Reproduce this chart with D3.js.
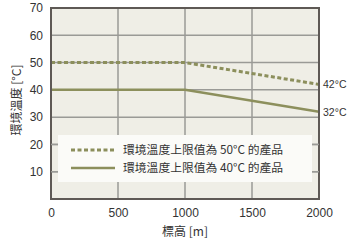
<!DOCTYPE html>
<html>
<head>
<meta charset="utf-8">
<script src="https://cdn.jsdelivr.net/npm/d3@7"></script>
<style>
  body { margin: 0; background: #fff; }
  text { font-family: "Noto Sans CJK TC", "Noto Sans", sans-serif; fill: #333; }
</style>
</head>
<body>
<svg id="chart" width="350" height="244"></svg>
<script>
const altitudes = [0, 1000, 2000];
const temp50 = [50, 50, 42];
const temp40 = [40, 40, 32];
const xTicks = [0, 500, 1000, 1500, 2000];
const yTicks = [10, 20, 30, 40, 50, 60, 70];
const seriesNames = ["環境溫度上限值為 50°C 的產品", "環境溫度上限值為 40°C 的產品"];
const endLabels = ["42°C", "32°C"];

const svg = d3.select("#chart");
const pLeft = 51, pRight = 319, pTop = 8, pBottom = 199;
const lineColor = "#8c8f5c";

const x = d3.scaleLinear().domain([0, 2000]).range([pLeft, pRight]);
const y = d3.scaleLinear().domain([0, 70]).range([pBottom, pTop]);

// plot background
svg.append("rect")
  .attr("x", pLeft).attr("y", pTop)
  .attr("width", pRight - pLeft).attr("height", pBottom - pTop)
  .attr("fill", "#efeee6");

// grid
const grid = svg.append("g");
grid.selectAll(".gx").data(xTicks.slice(1, -1)).enter().append("line")
  .attr("x1", d => x(d)).attr("x2", d => x(d))
  .attr("y1", pTop).attr("y2", pBottom)
  .attr("stroke", "#9a9a96").attr("stroke-width", 1.5);
grid.selectAll(".gy").data(yTicks.slice(0, -1)).enter().append("line")
  .attr("x1", pLeft).attr("x2", pRight)
  .attr("y1", d => y(d)).attr("y2", d => y(d))
  .attr("stroke", "#9a9a96").attr("stroke-width", 1.5);

// series
const line = d3.line().x(d => x(d[0])).y(d => y(d[1]));
svg.append("path")
  .datum(d3.zip(altitudes, temp50))
  .attr("d", line).attr("fill", "none")
  .attr("stroke", lineColor).attr("stroke-width", 3)
  .attr("stroke-dasharray", "4,2.5");
svg.append("path")
  .datum(d3.zip(altitudes, temp40))
  .attr("d", line).attr("fill", "none")
  .attr("stroke", lineColor).attr("stroke-width", 2.5);

// legend
const lg = svg.append("g");
lg.append("rect")
  .attr("x", 58).attr("y", 135).attr("width", 254).attr("height", 47)
  .attr("fill", "#fbfbf8");
seriesNames.forEach((name, i) => {
  const yy = 150 + i * 18;
  lg.append("line")
    .attr("x1", 71).attr("x2", 115).attr("y1", yy).attr("y2", yy)
    .attr("stroke", lineColor)
    .attr("stroke-width", i === 0 ? 3 : 2.5)
    .attr("stroke-dasharray", i === 0 ? "4,2.5" : null);
  lg.append("text")
    .attr("x", 123).attr("y", yy + 4)
    .attr("font-size", 11.8)
    .text(name);
});

// frame
svg.append("rect")
  .attr("x", pLeft).attr("y", pTop)
  .attr("width", pRight - pLeft).attr("height", pBottom - pTop)
  .attr("fill", "none").attr("stroke", "#5e5955").attr("stroke-width", 2);

// axes
const xAxis = svg.append("g")
  .attr("transform", `translate(0,${pBottom})`)
  .call(d3.axisBottom(x).tickValues(xTicks).tickFormat(d3.format("d")).tickSize(0).tickPadding(9));
xAxis.select(".domain").remove();
xAxis.selectAll("text").attr("font-size", 12).attr("fill", "#333")
  .style("font-family", "Liberation Sans, Arial, sans-serif");

const yAxis = svg.append("g")
  .attr("transform", `translate(${pLeft},0)`)
  .call(d3.axisLeft(y).tickValues(yTicks).tickSize(0).tickPadding(8));
yAxis.select(".domain").remove();
yAxis.selectAll("text").attr("font-size", 12).attr("fill", "#333")
  .style("font-family", "Liberation Sans, Arial, sans-serif");

// small ticks on left/right where legend covers the grid
[10, 20].forEach(v => {
  svg.append("line").attr("x1", pLeft).attr("x2", pLeft + 7)
    .attr("y1", y(v)).attr("y2", y(v)).attr("stroke", "#9a9a96").attr("stroke-width", 1.5);
  svg.append("line").attr("x1", pRight - 7).attr("x2", pRight)
    .attr("y1", y(v)).attr("y2", y(v)).attr("stroke", "#9a9a96").attr("stroke-width", 1.5);
});

// end labels
[temp50, temp40].forEach((s, i) => {
  svg.append("text")
    .attr("x", pRight + 4).attr("y", y(s[s.length - 1]) + 4)
    .attr("font-size", 10.5)
    .style("font-family", "Liberation Sans, Arial, sans-serif")
    .text(endLabels[i]);
});

// titles
svg.append("text")
  .attr("x", (pLeft + pRight) / 2).attr("y", 236)
  .attr("text-anchor", "middle").attr("font-size", 12)
  .text("標高 [m]");
svg.append("text")
  .attr("transform", "translate(21,100) rotate(-90)")
  .attr("text-anchor", "middle").attr("font-size", 12)
  .text("環境溫度 [°C]");
</script>
</body>
</html>
